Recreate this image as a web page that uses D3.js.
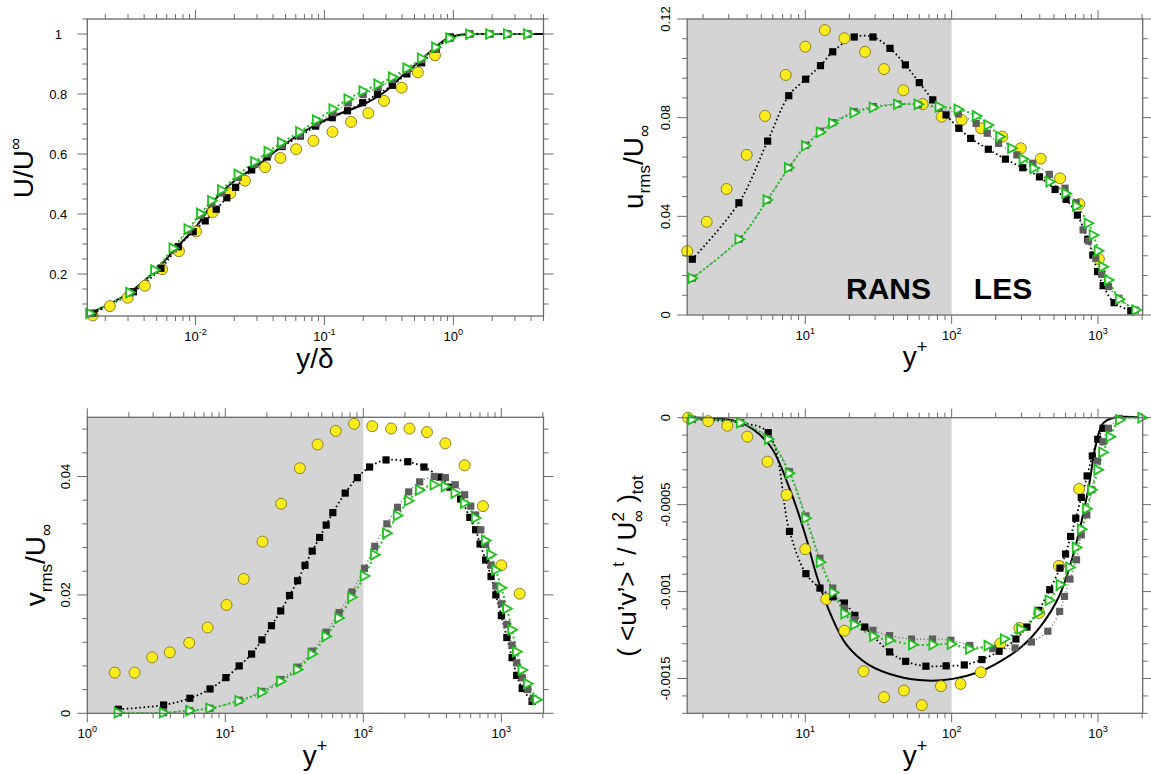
<!DOCTYPE html>
<html><head><meta charset="utf-8">
<script src="https://cdn.jsdelivr.net/npm/d3@7"></script>
<style>
body{margin:0;background:#fff}
svg{display:block}
text{font-family:"Liberation Sans",Arial,Helvetica,sans-serif;fill:#000}
</style>
</head><body>
<svg id="c" width="1151" height="774"></svg>
<script>
// ---------------- DATA ----------------
// Panel 1 : U/Uinf vs y/delta
const p1YellowX = [0.0016,0.00217,0.00298,0.00405,0.00551,0.00745,0.0101,0.0136,0.0186,0.0242,0.0347,0.0456,0.0604,0.0822,0.1155,0.161,0.219,0.29,0.397,0.53,0.721];
const p1YellowY = [0.062,0.093,0.121,0.161,0.216,0.276,0.342,0.406,0.469,0.511,0.556,0.587,0.616,0.644,0.674,0.707,0.736,0.777,0.821,0.872,0.929];
const p1BlackX = [0.00161,0.0033,0.0054,0.00736,0.0096,0.0119,0.0145,0.0175,0.0205,0.0273,0.036,0.047,0.065,0.0855,0.115,0.151,0.198,0.258,0.336,0.436,0.568,0.736,0.95,1.34,1.92,2.64,3.78];
const p1BlackY = [0.069,0.141,0.219,0.291,0.341,0.377,0.416,0.454,0.489,0.547,0.59,0.625,0.66,0.693,0.721,0.744,0.771,0.799,0.829,0.867,0.904,0.95,0.99,1.0,1.0,1.0,1.0];
const p1GrayX = [0.00152,0.0031,0.00485,0.00673,0.0088,0.011,0.0134,0.016,0.0215,0.0289,0.0367,0.0466,0.0645,0.087,0.117,0.153,0.2,0.261,0.338,0.438,0.567,0.731,0.94,1.34,1.92,2.64,3.78];
const p1GrayY = [0.068,0.137,0.212,0.284,0.345,0.395,0.435,0.47,0.522,0.565,0.6,0.628,0.664,0.703,0.738,0.77,0.798,0.822,0.848,0.88,0.914,0.952,0.985,0.999,1.0,1.0,1.0];
const p1GreenX = [0.00152,0.0031,0.00485,0.00673,0.0088,0.011,0.0134,0.016,0.0215,0.0289,0.0367,0.0466,0.0645,0.087,0.117,0.153,0.2,0.261,0.338,0.438,0.567,0.731,0.94,1.34,1.92,2.64,3.78];
const p1GreenY = [0.069,0.138,0.213,0.286,0.35,0.402,0.444,0.48,0.532,0.574,0.608,0.638,0.674,0.713,0.75,0.783,0.81,0.832,0.856,0.886,0.919,0.956,0.986,0.999,1.0,1.0,1.0];
const p1SolidX = [0.00145,0.003,0.005,0.007,0.01,0.015,0.02,0.03,0.045,0.077,0.124,0.2,0.3,0.4,0.55,0.7,0.9,1.2,2,5];
const p1SolidY = [0.065,0.135,0.215,0.285,0.355,0.46,0.51,0.56,0.62,0.686,0.73,0.765,0.81,0.86,0.91,0.95,0.985,0.998,1.0,1.0];

// Panel 2 : u_rms/Uinf vs y+
const p2YellowX = [1.56,2.12,2.9,3.98,5.31,7.35,10,13.6,18.5,25.6,34.5,46.8,63.4,85.5,117,159,222,297,406,551,747,1014];
const p2YellowY = [0.0259,0.0378,0.0511,0.0649,0.0807,0.0973,0.1088,0.1155,0.1122,0.1067,0.0997,0.0911,0.0855,0.0804,0.0791,0.0757,0.0723,0.0676,0.0634,0.0554,0.045,0.0227];
const p2BlackX = [1.69,3.52,5.53,7.71,10.06,12.7,15.4,21.6,29,37.9,48.3,60.1,74.3,91.6,112,135,178,233,306,398,509,605,723,851,921,993,1084,1288,1675];
const p2BlackY = [0.0226,0.0455,0.0705,0.0889,0.0956,0.1011,0.1067,0.1127,0.1127,0.1081,0.1014,0.0942,0.0872,0.0811,0.0757,0.0716,0.0672,0.0632,0.0597,0.056,0.0509,0.0469,0.0405,0.0307,0.0243,0.0176,0.0119,0.005,0.0017];
const p2GrayX = [1.69,3.54,5.5,7.71,10.06,12.7,15.4,21.6,29.2,42.8,59.2,82.4,111,147,175,209,279,358,465,596,709,791,861,966,1060,1180,1390,1800];
const p2GrayY = [0.0149,0.0307,0.0466,0.0597,0.0688,0.0745,0.078,0.0825,0.0845,0.0855,0.0852,0.0838,0.0815,0.0777,0.0737,0.0696,0.0649,0.0615,0.057,0.0514,0.0455,0.0345,0.03,0.023,0.0165,0.0115,0.0068,0.002];
const p2GreenX = [1.69,3.54,5.5,7.71,10.06,12.7,15.4,21.6,29.2,42.8,59.2,82.4,111,148,178,214,258,309,366,471,605,716,859,930,1007,1084,1183,1406,1820];
const p2GreenY = [0.0149,0.0307,0.0466,0.0597,0.0686,0.0741,0.0777,0.082,0.0841,0.0854,0.0854,0.0844,0.0834,0.0807,0.077,0.0723,0.0676,0.0632,0.0595,0.054,0.0493,0.0442,0.0372,0.0324,0.026,0.0196,0.0142,0.0064,0.002];

// Panel 3 : v_rms/Uinf vs y+
const p3YellowX = [1.58,2.2,2.95,3.96,5.48,7.44,10.2,13.6,18.6,25.4,34.7,46.6,63.1,85.7,116,159,216,289,393,542,736,1000,1358];
const p3YellowY = [0.00687,0.00687,0.00946,0.0103,0.0119,0.0145,0.0183,0.0227,0.029,0.0354,0.0414,0.0454,0.0477,0.0489,0.0485,0.0481,0.0481,0.0475,0.0456,0.0419,0.035,0.025,0.0202];
const p3BlackX = [1.68,3.57,5.54,7.75,10.1,12.6,15.5,18.4,21.6,25.2,29.2,33.4,37.8,42.6,48.2,53.8,60.1,73.9,90.4,111,146,210,275,358,425,507,591,651,701,769,842,912,1000,1096,1195,1292,1416,1670];
const p3BlackY = [0.00068,0.0014,0.00254,0.00411,0.00603,0.008,0.01,0.0124,0.0148,0.0173,0.0199,0.0224,0.025,0.0274,0.0297,0.0318,0.0339,0.0372,0.0398,0.0416,0.0428,0.0425,0.0416,0.0399,0.0382,0.0362,0.0331,0.031,0.0286,0.0259,0.0231,0.02,0.0165,0.0128,0.0094,0.0064,0.0042,0.002];
const p3GrayX = [1.68,3.57,5.54,7.75,12.6,18.4,25.2,33.4,42.6,53.8,66.7,82.6,102,121,148,177,213,256,327,393,463,542,600,651,710,769,842,912,1000,1096,1195,1292,1416,1553,1700];
const p3GrayY = [0.0001,0.0001,0.00045,0.00085,0.0022,0.0037,0.0057,0.0078,0.0105,0.0137,0.017,0.0205,0.0245,0.0282,0.032,0.0348,0.0374,0.0391,0.04,0.0398,0.0386,0.0369,0.035,0.0335,0.031,0.0285,0.025,0.0215,0.0185,0.015,0.0115,0.0085,0.006,0.004,0.0025];
const p3GreenX = [1.68,3.57,5.54,7.75,12.6,18.4,25.2,33.4,42.6,53.8,66.7,82.6,102,121,148,177,213,256,327,393,463,542,651,769,842,912,1000,1096,1195,1292,1416,1553,1811];
const p3GreenY = [0.0001,0.0001,0.00045,0.00085,0.0021,0.0035,0.0054,0.0074,0.01,0.013,0.0161,0.0196,0.0232,0.0268,0.0304,0.0334,0.0359,0.0377,0.0386,0.0383,0.0372,0.0355,0.033,0.0292,0.0268,0.0242,0.0212,0.0177,0.0141,0.0104,0.0073,0.005,0.0023];

// Panel 4 : <u'v'>/Uinf^2 vs y+
const p4YellowX = [1.58,2.17,2.93,4.02,5.52,7.45,10,13.9,18.5,25,34.5,47.2,62.5,84.5,115,158,215,290,396,541,743];
const p4YellowY = [0,-0.00002,-0.000046,-0.000109,-0.000253,-0.000444,-0.000756,-0.001043,-0.001225,-0.001458,-0.001607,-0.001569,-0.001653,-0.001544,-0.001531,-0.001464,-0.001299,-0.001209,-0.001123,-0.000852,-0.00041];
const p4BlackX = [1.69,3.6,5.58,7.8,10.1,12.6,15.4,18.5,21.8,25.5,37.7,48.5,66.7,91.6,122,161,211,275,327,392,468,550,600,650,705,769,843,914,996,1081];
const p4BlackY = [-0.00001,-0.00003,-0.000086,-0.000654,-0.000897,-0.00098,-0.00103,-0.001066,-0.001137,-0.001204,-0.001347,-0.001401,-0.001429,-0.001427,-0.001422,-0.001391,-0.001343,-0.001273,-0.001204,-0.001108,-0.000989,-0.000865,-0.000784,-0.000683,-0.000578,-0.000459,-0.000335,-0.00022,-0.000124,-0.000061];
const p4GrayX = [1.69,3.62,5.62,7.8,10.1,12.6,15.4,18.5,21.6,29,37.7,53.2,74,98.8,133,191,271,351,454,547,590,643,713,769,838,908,990,1081,1178,1400];
const p4GrayY = [-0.00001,-0.000029,-0.00012,-0.00031,-0.000565,-0.000808,-0.00098,-0.001095,-0.001162,-0.001223,-0.001253,-0.001273,-0.001273,-0.00128,-0.00131,-0.001328,-0.001324,-0.00129,-0.001228,-0.001114,-0.001028,-0.000928,-0.000817,-0.000674,-0.000559,-0.000415,-0.000249,-0.000138,-0.000061,-0.000004];
const p4GreenX = [1.69,3.62,5.62,7.8,10.1,12.7,15.6,18.7,21.8,29.4,37.7,54.2,74.8,99.8,133,178,230,298,393,465,553,643,713,773,838,908,1002,1081,1213,1409,2000];
const p4GreenY = [-0.00001,-0.000029,-0.000124,-0.00032,-0.000578,-0.000831,-0.001005,-0.001127,-0.00119,-0.001257,-0.00128,-0.001305,-0.001305,-0.001301,-0.00133,-0.001311,-0.001273,-0.001215,-0.00112,-0.00105,-0.00096,-0.00086,-0.000746,-0.000641,-0.000524,-0.000415,-0.0003,-0.000199,-0.000109,-0.000013,0];
const p4SolidX = [1.56,3.59,5.69,7.8,10,12,15.1,19.1,27,42.7,67.9,101.6,152,215,303,405,541,682,857,961,1081,1281,2020];
const p4SolidY = [0,-0.000027,-0.000157,-0.000406,-0.000674,-0.000913,-0.001142,-0.001305,-0.00142,-0.001487,-0.001512,-0.001502,-0.001464,-0.001401,-0.001315,-0.0012,-0.001028,-0.000779,-0.000415,-0.000166,-0.000033,0,0];

// Tick values and labels
const p1YTicks = [0.2,0.4,0.6,0.8,1];
const p1YLabels = ["0.2","0.4","0.6","0.8","1"];
const p2YTicks = [0,0.04,0.08,0.12];
const p2YLabels = ["0","0.04","0.08","0.12"];
const p3YTicks = [0,0.02,0.04];
const p3YLabels = ["0","0.02","0.04"];
const p4YTicks = [0,-0.0005,-0.001,-0.0015];
const p4YLabels = ["0","-0.0005","-0.001","-0.0015"];
const p1XExp = [-2,-1,0];
const p2XExp = [1,2,3];
const p3XExp = [0,1,2,3];
const p4XExp = [1,2,3];
const regionLabels = ["RANS","LES"];
const ransLesBoundary = 100;

// ---------------- DRAWING ----------------
const svg = d3.select('#c');
const YELLOW = '#fcec1c', YSTROKE = '#8c8030', GREEN = '#1fc01f', GRAY = '#5e5e5e', FRAME = '#6a6a6a';

function panel(o) {
  const g = svg.append('g');
  const x = d3.scaleLog().domain(o.xd).range([o.l, o.r]);
  const y = d3.scaleLinear().domain(o.yd).range([o.b, o.t]);
  if (o.shade) {
    g.append('rect').attr('x', o.l).attr('y', o.t)
      .attr('width', x(o.shade) - o.l).attr('height', o.b - o.t).attr('fill', '#d4d4d4');
  }
  const curve = d3.curveCatmullRom.alpha(0.5);
  const line = (xs, ys) => d3.line().curve(curve)(xs.map((v, i) => [x(v), y(ys[i])]));
  // lines
  if (o.solid) g.append('path').attr('d', line(o.solid[0], o.solid[1])).attr('fill', 'none').attr('stroke', '#000').attr('stroke-width', 2);
  g.append('path').attr('d', line(o.gray[0], o.gray[1])).attr('fill', 'none').attr('stroke', '#777').attr('stroke-width', 1.3).attr('stroke-dasharray', '1.2,2.4');
  g.append('path').attr('d', line(o.black[0], o.black[1])).attr('fill', 'none').attr('stroke', '#000').attr('stroke-width', 1.8).attr('stroke-dasharray', '1.6,2.6');
  g.append('path').attr('d', line(o.green[0], o.green[1])).attr('fill', 'none').attr('stroke', GREEN).attr('stroke-width', 2).attr('stroke-dasharray', '2,2.6');
  // markers
  g.selectAll(null).data(o.yellow[0]).enter().append('circle')
    .attr('cx', d => x(d)).attr('cy', (d, i) => y(o.yellow[1][i])).attr('r', 5.5)
    .attr('fill', YELLOW).attr('stroke', YSTROKE).attr('stroke-width', 1);
  g.selectAll(null).data(o.black[0]).enter().append('rect')
    .attr('x', d => x(d) - 3.6).attr('y', (d, i) => y(o.black[1][i]) - 3.6).attr('width', 7.2).attr('height', 7.2)
    .attr('fill', '#000');
  g.selectAll(null).data(o.gray[0]).enter().append('rect')
    .attr('x', d => x(d) - 3.6).attr('y', (d, i) => y(o.gray[1][i]) - 3.6).attr('width', 7.2).attr('height', 7.2)
    .attr('fill', GRAY);
  g.selectAll(null).data(o.green[0]).enter().append('path')
    .attr('d', 'M-3.8,-4.8 L5,0 L-3.8,4.8 Z')
    .attr('transform', (d, i) => `translate(${x(d)},${y(o.green[1][i])})`)
    .attr('fill', '#fff').attr('stroke', GREEN).attr('stroke-width', 1.8).attr('stroke-linejoin', 'miter');
  // frame
  g.append('rect').attr('x', o.l).attr('y', o.t).attr('width', o.r - o.l).attr('height', o.b - o.t)
    .attr('fill', 'none').attr('stroke', FRAME).attr('stroke-width', 1.3);
  // x ticks (top & bottom)
  const xt = x.ticks().filter(v => v >= o.xd[0] * 0.999 && v <= o.xd[1] * 1.001);
  xt.forEach(v => {
    const lg = Math.log10(v);
    const major = Math.abs(lg - Math.round(lg)) < 1e-6;
    const L = major ? 9 : 5;
    const px = x(v);
    g.append('line').attr('x1', px).attr('x2', px).attr('y1', o.b).attr('y2', o.b + L).attr('stroke', FRAME).attr('stroke-width', 1);
    g.append('line').attr('x1', px).attr('x2', px).attr('y1', o.t).attr('y2', o.t - L).attr('stroke', FRAME).attr('stroke-width', 1);
  });
  // y ticks (left & right)
  const k0 = Math.ceil(Math.min(...o.yd) / o.minor - 1e-6), k1 = Math.floor(Math.max(...o.yd) / o.minor + 1e-6);
  const ratio = Math.round(o.major / o.minor);
  for (let k = k0; k <= k1; k++) {
    const v = k * o.minor;
    const major = k % ratio === 0;
    const L = major ? 10 : 5;
    const py = y(v);
    g.append('line').attr('x1', o.l - L).attr('x2', o.l).attr('y1', py).attr('y2', py).attr('stroke', FRAME).attr('stroke-width', 1);
    g.append('line').attr('x1', o.r).attr('x2', o.r + L).attr('y1', py).attr('y2', py).attr('stroke', FRAME).attr('stroke-width', 1);
  }
  // y tick labels
  o.yTicks.forEach((v, i) => {
    if (o.rotLabels) {
      g.append('text').attr('transform', `translate(${o.l - 17},${y(v)}) rotate(-90)`)
        .attr('text-anchor', 'middle').attr('font-size', 13).text(o.yLabels[i]);
    } else {
      g.append('text').attr('x', o.l - 29).attr('y', y(v)).attr('dy', '0.35em')
        .attr('text-anchor', 'middle').attr('font-size', 13).text(o.yLabels[i]);
    }
  });
  // x tick labels
  o.xExp.forEach(e => {
    const t = g.append('text').attr('x', x(Math.pow(10, e))).attr('y', o.b + 25)
      .attr('text-anchor', 'middle').attr('font-size', 13);
    t.append('tspan').text('10');
    t.append('tspan').attr('font-size', 9).attr('dy', -6).text(e < 0 ? '-' + Math.abs(e) : String(e));
  });
  return { g, x, y };
}

function xTitlePlus(g, cx, by) {
  const t = g.append('text').attr('x', cx).attr('y', by).attr('text-anchor', 'middle').attr('font-size', 28);
  t.append('tspan').text('y');
  t.append('tspan').attr('font-size', 18).attr('dy', -13).text('+');
}

// Panel 1
const P1 = panel({ l: 87.3, r: 543.5, t: 19, b: 316, xd: [0.00145, 5], yd: [0.06, 1.05],
  minor: 0.05, major: 0.2, yTicks: p1YTicks, yLabels: p1YLabels, xExp: p1XExp, rotLabels: false,
  yellow: [p1YellowX, p1YellowY], black: [p1BlackX, p1BlackY], gray: [p1GrayX, p1GrayY], green: [p1GreenX, p1GreenY],
  solid: [p1SolidX, p1SolidY] });
{
  const t = P1.g.append('text').attr('transform', 'translate(33,168) rotate(-90)').attr('text-anchor', 'middle').attr('font-size', 28);
  t.append('tspan').text('U/U');
  t.append('tspan').attr('font-size', 17).attr('dy', -12).text('∞');
  P1.g.append('text').attr('x', 315).attr('y', 368).attr('text-anchor', 'middle').attr('font-size', 28).text('y/δ');
}

// Panel 2
const P2 = panel({ l: 687.2, r: 1142.7, t: 19, b: 315, xd: [1.56, 2020], yd: [0, 0.12], shade: ransLesBoundary,
  minor: 0.008, major: 0.04, yTicks: p2YTicks, yLabels: p2YLabels, xExp: p2XExp, rotLabels: true,
  yellow: [p2YellowX, p2YellowY], black: [p2BlackX, p2BlackY], gray: [p2GrayX, p2GrayY], green: [p2GreenX, p2GreenY] });
{
  const t = P2.g.append('text').attr('transform', 'translate(643,167) rotate(-90)').attr('text-anchor', 'middle').attr('font-size', 28);
  t.append('tspan').text('u');
  t.append('tspan').attr('font-size', 17).attr('dy', 7).text('rms');
  t.append('tspan').attr('dy', -7).text('/U');
  t.append('tspan').attr('font-size', 17).attr('dy', 7).text('∞');
  xTitlePlus(P2.g, 915, 366);
  P2.g.append('text').attr('x', 888.5).attr('y', 299).attr('text-anchor', 'middle').attr('font-size', 30).attr('font-weight', 'bold').text(regionLabels[0]);
  P2.g.append('text').attr('x', 1003).attr('y', 299).attr('text-anchor', 'middle').attr('font-size', 30).attr('font-weight', 'bold').text(regionLabels[1]);
}

// Panel 3
const P3 = panel({ l: 87.3, r: 543.5, t: 417.3, b: 713.3, xd: [1, 2020], yd: [0, 0.05], shade: ransLesBoundary,
  minor: 0.004, major: 0.02, yTicks: p3YTicks, yLabels: p3YLabels, xExp: p3XExp, rotLabels: true,
  yellow: [p3YellowX, p3YellowY], black: [p3BlackX, p3BlackY], gray: [p3GrayX, p3GrayY], green: [p3GreenX, p3GreenY] });
{
  const t = P3.g.append('text').attr('transform', 'translate(45,565) rotate(-90)').attr('text-anchor', 'middle').attr('font-size', 28);
  t.append('tspan').text('v');
  t.append('tspan').attr('font-size', 17).attr('dy', 7).text('rms');
  t.append('tspan').attr('dy', -7).text('/U');
  t.append('tspan').attr('font-size', 17).attr('dy', 7).text('∞');
  xTitlePlus(P3.g, 315, 765);
}

// Panel 4
const P4 = panel({ l: 687.2, r: 1142.7, t: 417.7, b: 713.3, xd: [1.56, 2020], yd: [-0.0017, 0], shade: ransLesBoundary,
  minor: 0.0001, major: 0.0005, yTicks: p4YTicks, yLabels: p4YLabels, xExp: p4XExp, rotLabels: true,
  yellow: [p4YellowX, p4YellowY], black: [p4BlackX, p4BlackY], gray: [p4GrayX, p4GrayY], green: [p4GreenX, p4GreenY],
  solid: [p4SolidX, p4SolidY] });
{
  const t = P4.g.append('text').attr('transform', 'translate(636,566) rotate(-90)').attr('text-anchor', 'middle').attr('font-size', 26);
  t.append('tspan').text('( <u’v’>');
  t.append('tspan').attr('font-size', 17).attr('dy', -12).text(' t');
  t.append('tspan').attr('dy', 12).text(' / U');
  t.append('tspan').attr('font-size', 17).attr('dy', -12).text('2');
  t.append('tspan').attr('font-size', 17).attr('dx', -10).attr('dy', 20).text('∞');
  t.append('tspan').attr('dy', -8).text(' )');
  t.append('tspan').attr('font-size', 17).attr('dy', 7).text('tot');
  xTitlePlus(P4.g, 915, 765);
}
</script>
</body></html>
